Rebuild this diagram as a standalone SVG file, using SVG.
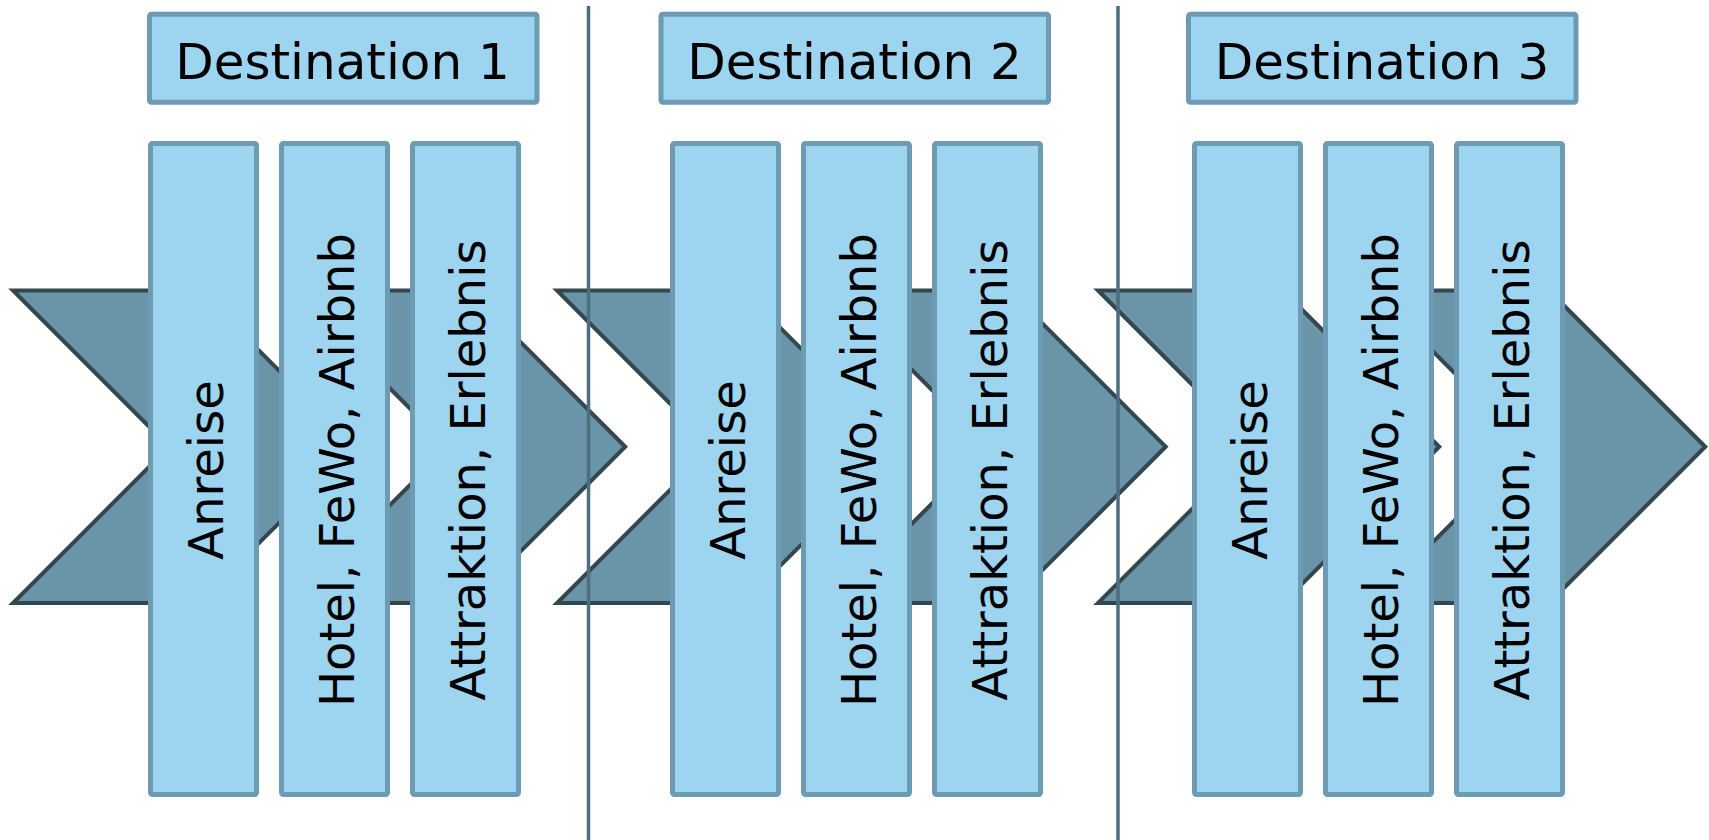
<svg xmlns="http://www.w3.org/2000/svg" width="1709" height="840" viewBox="0 0 1709 840">
<style>
.chev{fill:#6a94a8;stroke:#34474f;stroke-width:4;stroke-linejoin:miter}
.sep{stroke:#4d6e7e;stroke-width:3.5;fill:none}
.box{fill:#9dd4f0;stroke:#6d9bb3;stroke-width:5}
.hd{font-family:"DejaVu Sans",Verdana,sans-serif;font-size:50px;fill:#000;text-anchor:middle}
.vt{font-family:"DejaVu Sans",Verdana,sans-serif;font-size:48px;fill:#000;text-anchor:middle}
</style>
<rect width="1709" height="840" fill="#ffffff"/>
<g id="chevrons">
<polygon class="chev" points="13,290.5 199,290.5 355.25,446.75 199,603 13,603 169.25,446.75"/>
<polygon class="chev" points="292,290.5 469,290.5 625.25,446.75 469,603 292,603 448.25,446.75"/>
<polygon class="chev" points="557,290.5 743,290.5 899.25,446.75 743,603 557,603 713.25,446.75"/>
<polygon class="chev" points="832.5,290.5 1009.5,290.5 1165.75,446.75 1009.5,603 832.5,603 988.75,446.75"/>
<polygon class="chev" points="1098,290.5 1283,290.5 1439.25,446.75 1283,603 1098,603 1254.25,446.75"/>
<polygon class="chev" points="1372,290.5 1549,290.5 1705.25,446.75 1549,603 1372,603 1528.25,446.75"/>
</g>
<g id="connectors">
<line class="sep" x1="588.5" y1="6" x2="588.5" y2="840"/>
<line class="sep" x1="1118" y1="6" x2="1118" y2="840"/>
</g>
<g id="dest1">
<rect class="box" x="149.5" y="14.2" width="387.5" height="88" rx="2"/>
<text class="hd" x="342.5" y="79">Destination 1</text>
</g>
<g id="dest2">
<rect class="box" x="661" y="14.2" width="387.5" height="88" rx="2"/>
<text class="hd" x="854.5" y="79">Destination 2</text>
</g>
<g id="dest3">
<rect class="box" x="1188.5" y="14.2" width="387.5" height="88" rx="2"/>
<text class="hd" x="1382" y="79">Destination 3</text>
</g>
<g id="g1-anreise">
<rect class="box" x="150.5" y="143.5" width="106" height="651" rx="2"/>
<text class="vt" transform="translate(223,470) rotate(-90)">Anreise</text>
</g>
<g id="g1-hotel">
<rect class="box" x="281.5" y="143.5" width="106" height="651" rx="2"/>
<text class="vt" transform="translate(354,470) rotate(-90)">Hotel, FeWo, Airbnb</text>
</g>
<g id="g1-attraktion">
<rect class="box" x="412.5" y="143.5" width="106" height="651" rx="2"/>
<text class="vt" transform="translate(485,470) rotate(-90)">Attraktion, Erlebnis</text>
</g>
<g id="g2-anreise">
<rect class="box" x="672.5" y="143.5" width="106" height="651" rx="2"/>
<text class="vt" transform="translate(745,470) rotate(-90)">Anreise</text>
</g>
<g id="g2-hotel">
<rect class="box" x="803.5" y="143.5" width="106" height="651" rx="2"/>
<text class="vt" transform="translate(876,470) rotate(-90)">Hotel, FeWo, Airbnb</text>
</g>
<g id="g2-attraktion">
<rect class="box" x="934.5" y="143.5" width="106" height="651" rx="2"/>
<text class="vt" transform="translate(1007,470) rotate(-90)">Attraktion, Erlebnis</text>
</g>
<g id="g3-anreise">
<rect class="box" x="1194.5" y="143.5" width="106" height="651" rx="2"/>
<text class="vt" transform="translate(1267,470) rotate(-90)">Anreise</text>
</g>
<g id="g3-hotel">
<rect class="box" x="1325.5" y="143.5" width="106" height="651" rx="2"/>
<text class="vt" transform="translate(1398,470) rotate(-90)">Hotel, FeWo, Airbnb</text>
</g>
<g id="g3-attraktion">
<rect class="box" x="1456.5" y="143.5" width="106" height="651" rx="2"/>
<text class="vt" transform="translate(1529,470) rotate(-90)">Attraktion, Erlebnis</text>
</g>
</svg>
